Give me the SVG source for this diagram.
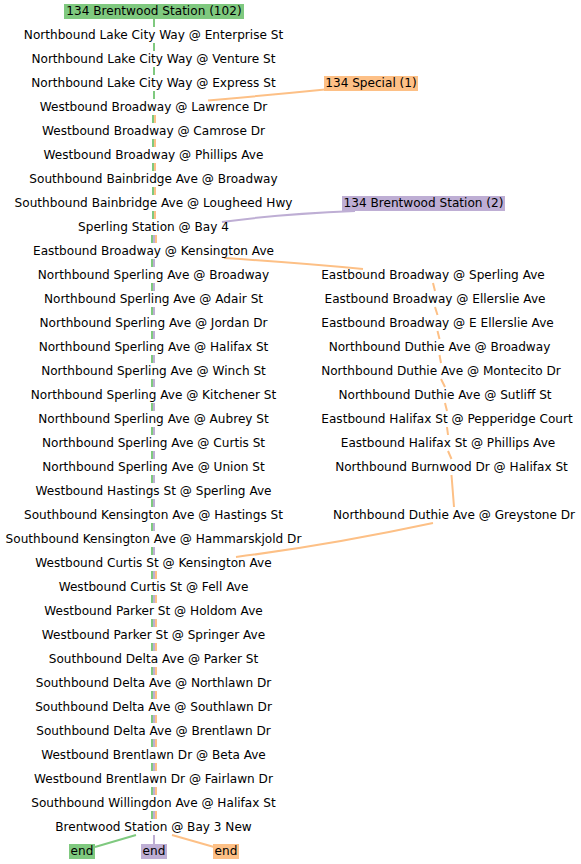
<svg xmlns="http://www.w3.org/2000/svg" width="581" height="864" viewBox="0 0 581 864">
<style>
text{font-family:"DejaVu Sans","Liberation Sans",sans-serif;font-size:12.1px;fill:#000;text-anchor:middle}
.c path{fill:none;stroke-width:2}
.g{stroke:#7fc97f}.p{stroke:#beaed4}.o{stroke:#fdc086}
.bg{fill:#7fc97f}.bp{fill:#beaed4}.bo{fill:#fdc086}
</style>
<rect width="581" height="864" fill="#fff"/>
<g id="connectors" class="c">
<path class="g" d="M154,19V27M154,43V51M154,67V75M154,91V99M153,115V123M153,139V147M153,163V171M153,187V195M153,211V219M152,235V243M152,259V267M152,283V291M152,307V315M152,331V339M152,355V363M152,379V387M152,403V411M152,427V435M152,451V459M152,475V483M152,499V507M152,523V531M152,547V555M152,571V579M152,595V603M152,619V627M152,643V651M152,667V675M152,691V699M152,715V723M152,739V747M152,763V771M152,787V795M152,811V819M136,835L95,847"/>
<path class="p" d="M355,211Q280,214 222,222M154,235V243M154,259V267M154,283V291M154,307V315M154,331V339M154,355V363M154,379V387M154,403V411M154,427V435M154,451V459M154,475V483M154,499V507M154,523V531M154,547V555M154,571V579M154,595V603M154,619V627M154,643V651M154,667V675M154,691V699M154,715V723M154,739V747M154,763V771M154,787V795M154,811V819M154,835V844"/>
<path class="o" d="M325,89.5Q270,95 208,100.5M155,115V123M155,139V147M155,163V171M155,187V195M155,211V219M156,235V243M224,258Q300,263 363,269M433,283L435,291M435,307L437.5,315M437.5,331L439.5,339M439.5,355L441,363M441,379L445,387M445,403L447,411M447,427L448,435M448,451L451.5,459M451.5,475L454,507M433,523Q330,545 236,557M156,571V579M156,595V603M156,619V627M156,643V651M156,667V675M156,691V699M156,715V723M156,739V747M156,763V771M156,787V795M156,811V819M172,835L214,847"/>
</g>
<g id="n_start102"><rect class="bg" x="64" y="4" width="180" height="15"/><text x="154" y="15">134 Brentwood Station (102)</text></g>
<g id="n_special1"><rect class="bo" x="324" y="76" width="94" height="15"/><text x="371" y="87">134 Special (1)</text></g>
<g id="n_start2"><rect class="bp" x="342" y="196" width="163" height="15"/><text x="423.5" y="207">134 Brentwood Station (2)</text></g>
<g id="n1"><text x="153.5" y="39">Northbound Lake City Way @ Enterprise St</text></g>
<g id="n2"><text x="153.5" y="63">Northbound Lake City Way @ Venture St</text></g>
<g id="n3"><text x="153.5" y="87">Northbound Lake City Way @ Express St</text></g>
<g id="n4"><text x="153.5" y="111">Westbound Broadway @ Lawrence Dr</text></g>
<g id="n5"><text x="153.5" y="135">Westbound Broadway @ Camrose Dr</text></g>
<g id="n6"><text x="153.5" y="159">Westbound Broadway @ Phillips Ave</text></g>
<g id="n7"><text x="153.5" y="183">Southbound Bainbridge Ave @ Broadway</text></g>
<g id="n8"><text x="153.5" y="207">Southbound Bainbridge Ave @ Lougheed Hwy</text></g>
<g id="n9"><text x="153.5" y="231">Sperling Station @ Bay 4</text></g>
<g id="n10"><text x="153.5" y="255">Eastbound Broadway @ Kensington Ave</text></g>
<g id="n11"><text x="153.5" y="279">Northbound Sperling Ave @ Broadway</text></g>
<g id="n12"><text x="153.5" y="303">Northbound Sperling Ave @ Adair St</text></g>
<g id="n13"><text x="153.5" y="327">Northbound Sperling Ave @ Jordan Dr</text></g>
<g id="n14"><text x="153.5" y="351">Northbound Sperling Ave @ Halifax St</text></g>
<g id="n15"><text x="153.5" y="375">Northbound Sperling Ave @ Winch St</text></g>
<g id="n16"><text x="153.5" y="399">Northbound Sperling Ave @ Kitchener St</text></g>
<g id="n17"><text x="153.5" y="423">Northbound Sperling Ave @ Aubrey St</text></g>
<g id="n18"><text x="153.5" y="447">Northbound Sperling Ave @ Curtis St</text></g>
<g id="n19"><text x="153.5" y="471">Northbound Sperling Ave @ Union St</text></g>
<g id="n20"><text x="153.5" y="495">Westbound Hastings St @ Sperling Ave</text></g>
<g id="n21"><text x="153.5" y="519">Southbound Kensington Ave @ Hastings St</text></g>
<g id="n22"><text x="153.5" y="543">Southbound Kensington Ave @ Hammarskjold Dr</text></g>
<g id="n23"><text x="153.5" y="567">Westbound Curtis St @ Kensington Ave</text></g>
<g id="n24"><text x="153.5" y="591">Westbound Curtis St @ Fell Ave</text></g>
<g id="n25"><text x="153.5" y="615">Westbound Parker St @ Holdom Ave</text></g>
<g id="n26"><text x="153.5" y="639">Westbound Parker St @ Springer Ave</text></g>
<g id="n27"><text x="153.5" y="663">Southbound Delta Ave @ Parker St</text></g>
<g id="n28"><text x="153.5" y="687">Southbound Delta Ave @ Northlawn Dr</text></g>
<g id="n29"><text x="153.5" y="711">Southbound Delta Ave @ Southlawn Dr</text></g>
<g id="n30"><text x="153.5" y="735">Southbound Delta Ave @ Brentlawn Dr</text></g>
<g id="n31"><text x="153.5" y="759">Westbound Brentlawn Dr @ Beta Ave</text></g>
<g id="n32"><text x="153.5" y="783">Westbound Brentlawn Dr @ Fairlawn Dr</text></g>
<g id="n33"><text x="153.5" y="807">Southbound Willingdon Ave @ Halifax St</text></g>
<g id="n34"><text x="153.5" y="831">Brentwood Station @ Bay 3 New</text></g>
<g id="r0"><text x="433" y="279">Eastbound Broadway @ Sperling Ave</text></g>
<g id="r1"><text x="435" y="303">Eastbound Broadway @ Ellerslie Ave</text></g>
<g id="r2"><text x="437.5" y="327">Eastbound Broadway @ E Ellerslie Ave</text></g>
<g id="r3"><text x="439.5" y="351">Northbound Duthie Ave @ Broadway</text></g>
<g id="r4"><text x="441" y="375">Northbound Duthie Ave @ Montecito Dr</text></g>
<g id="r5"><text x="445" y="399">Northbound Duthie Ave @ Sutliff St</text></g>
<g id="r6"><text x="447" y="423">Eastbound Halifax St @ Pepperidge Court</text></g>
<g id="r7"><text x="448" y="447">Eastbound Halifax St @ Phillips Ave</text></g>
<g id="r8"><text x="451.5" y="471">Northbound Burnwood Dr @ Halifax St</text></g>
<g id="r9"><text x="454" y="519">Northbound Duthie Ave @ Greystone Dr</text></g>
<g id="end_g"><rect class="bg" x="69" y="844" width="26" height="15"/><text x="82" y="855">end</text></g>
<g id="end_p"><rect class="bp" x="141" y="844" width="26" height="15"/><text x="154" y="855">end</text></g>
<g id="end_o"><rect class="bo" x="213" y="844" width="26" height="15"/><text x="226" y="855">end</text></g>
</svg>
